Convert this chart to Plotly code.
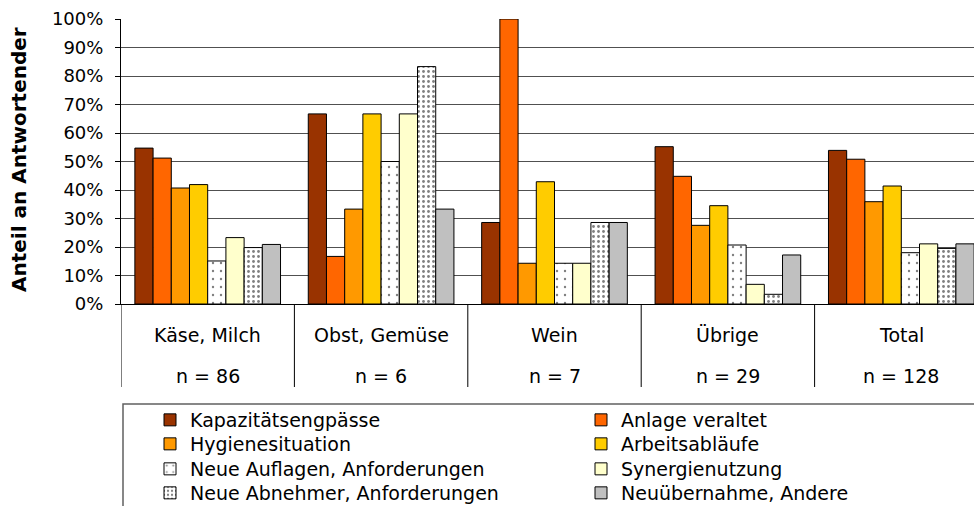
import plotly.graph_objects as go

categories = ["Käse, Milch", "Obst, Gemüse", "Wein", "Übrige", "Total"]
n_labels = ["n = 86", "n = 6", "n = 7", "n = 29", "n = 128"]

series_names = [
    "Kapazitätsengpässe",
    "Anlage veraltet",
    "Hygienesituation",
    "Arbeitsabläufe",
    "Neue Auflagen, Anforderungen",
    "Synergienutzung",
    "Neue Abnehmer, Anforderungen",
    "Neuübernahme, Andere",
]

kapazitaet = [54.7, 66.7, 28.6, 55.2, 53.9]
anlage = [51.2, 16.7, 100.0, 44.8, 50.8]
hygiene = [40.7, 33.3, 14.3, 27.6, 35.9]
arbeit = [41.9, 66.7, 42.9, 34.5, 41.4]
auflagen = [15.1, 50.0, 14.3, 20.7, 18.0]
synergie = [23.3, 66.7, 14.3, 6.9, 21.1]
abnehmer = [19.8, 83.3, 28.6, 3.4, 19.5]
andere = [20.9, 33.3, 28.6, 17.2, 21.1]

series_values = [kapazitaet, anlage, hygiene, arbeit, auflagen, synergie, abnehmer, andere]
colors = ["#993300", "#FF6600", "#FF9900", "#FFCC00", "#FFFFFF", "#FFFFCC", "#FFFFFF", "#C0C0C0"]
patterns = [None, None, None, None,
            dict(shape=".", size=8, solidity=0.07, fgcolor="#000000", bgcolor="#FFFFFF"),
            None,
            dict(shape=".", size=5, solidity=0.25, fgcolor="#000000", bgcolor="#FFFFFF"),
            None]

W, H = 974, 506
L, T, B = 121, 19, 202
plot_w = W - L
plot_h = H - T - B

def px_x(p):
    return (p - L) / plot_w

def px_y(p):
    return (H - B - p) / plot_h

FONT = "DejaVu Sans, Verdana, sans-serif"

# legend slots (two columns, four rows)
legend_cols_px = [150, 581]
legend_rows_px = [420, 444, 469, 493]

fig = go.Figure()
x_idx = list(range(len(categories)))
legend_layout = {}
for i, (name, vals) in enumerate(zip(series_names, series_values)):
    marker = dict(color=colors[i], line=dict(color="#000000", width=1))
    if patterns[i] is not None:
        marker["pattern"] = patterns[i]
    lid = "legend" if i == 0 else "legend%d" % (i + 1)
    fig.add_trace(go.Bar(x=x_idx, y=vals, name=name, marker=marker, legend=lid))
    legend_layout[lid] = dict(
        x=px_x(legend_cols_px[i % 2]), y=px_y(legend_rows_px[i // 2]),
        xanchor="left", yanchor="middle", orientation="v",
        font=dict(family=FONT, size=19, color="#000000"),
        bgcolor="rgba(0,0,0,0)", borderwidth=0, itemclick=False,
    )

shapes = []
for b in [-0.5, 0.5, 1.5, 2.5, 3.5]:
    shapes.append(dict(type="line", xref="x", yref="paper", x0=b, x1=b,
                       y0=0, y1=px_y(387), line=dict(color="#000000", width=1)))
shapes.append(dict(type="rect", xref="paper", yref="paper",
                   x0=px_x(123), x1=px_x(1000), y0=px_y(404), y1=px_y(560),
                   line=dict(color="#606060", width=1.5), fillcolor="rgba(0,0,0,0)"))

annotations = []
for i, (c, nl) in enumerate(zip(categories, n_labels)):
    annotations.append(dict(x=i, y=px_y(335), xref="x", yref="paper", text=c,
                            showarrow=False, font=dict(family=FONT, size=19, color="#000000"),
                            xanchor="center", yanchor="middle"))
    annotations.append(dict(x=i, y=px_y(376), xref="x", yref="paper", text=nl,
                            showarrow=False, font=dict(family=FONT, size=19, color="#000000"),
                            xanchor="center", yanchor="middle"))
annotations.append(dict(x=px_x(19), y=px_y(160), xref="paper", yref="paper",
                        text="<b>Anteil an Antwortender</b>", textangle=-90, showarrow=False,
                        font=dict(family=FONT, size=20, color="#000000"),
                        xanchor="center", yanchor="middle"))

fig.update_layout(
    width=W, height=H,
    margin=dict(l=L, r=0, t=T, b=B, pad=0, autoexpand=False),
    paper_bgcolor="#FFFFFF", plot_bgcolor="#FFFFFF",
    barmode="group", bargap=0.16, bargroupgap=0,
    showlegend=True,
    shapes=shapes, annotations=annotations,
    xaxis=dict(range=[-0.5, -0.5 + plot_w / 173.4], showticklabels=False, ticks="",
               showgrid=False, zeroline=False, showline=True, linecolor="#000000", linewidth=1,
               fixedrange=True),
    yaxis=dict(range=[0, 100], dtick=10, ticksuffix="%", ticks="outside", ticklen=5,
               tickcolor="#000000", showline=True, linecolor="#000000", linewidth=1,
               showgrid=True, gridcolor="#505050", gridwidth=1, zeroline=False,
               tickfont=dict(family=FONT, size=18, color="#000000"),
               ticklabelstandoff=8, fixedrange=True),
    **legend_layout,
)

fig.write_html("out.html", config={"displayModeBar": False},
               post_script="document.body.style.margin='0px';")
